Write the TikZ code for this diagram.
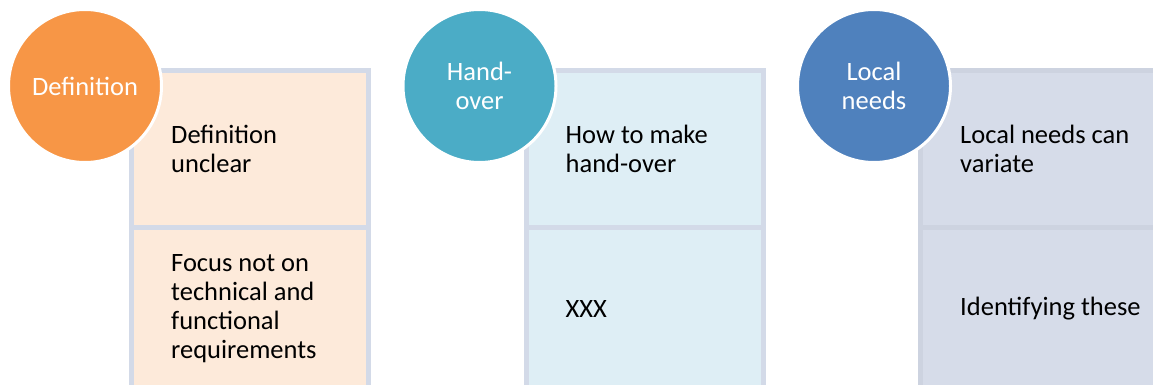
\documentclass[tikz,border=0pt]{standalone}
\usepackage{fontspec}
\setmainfont{Carlito}
\usetikzlibrary{positioning}

\begin{document}
\begin{tikzpicture}[x=1pt,y=-1pt,
  font=\fontsize{26.5}{29}\selectfont,
  circ/.style={circle,minimum size=153pt,inner sep=0pt,outer sep=0pt,
    draw=white,line width=3pt,text=white,align=center},
  cell/.style={rectangle,minimum width=237pt,inner sep=0pt,outer sep=0pt,
    line width=5pt},
  celltext/.style={align=left,inner sep=0pt,text=black}]
\definecolor{defcolor}{RGB}{247,150,70}
\definecolor{deffill}{RGB}{253,234,218}
\definecolor{handcolor}{RGB}{75,172,198}
\definecolor{handfill}{RGB}{222,238,245}
\definecolor{localcolor}{RGB}{79,129,189}
\definecolor{localfill}{RGB}{214,220,233}
\definecolor{cellline}{RGB}{211,218,232}

% Page size: 1153 x 385.
\useasboundingbox (0,0) rectangle (1153,385);

% Columns of two cells each, drawn first so the circles sit on top.
\node[cell,minimum height=157pt,fill=deffill,draw=cellline] (deftop) at (250,149) {};
\node[cell,minimum height=162pt,fill=deffill,draw=cellline] (defbot) at (250,308.5) {};
\node[cell,minimum height=157pt,fill=handfill,draw=cellline] (handtop) at (644.5,149) {};
\node[cell,minimum height=162pt,fill=handfill,draw=cellline] (handbot) at (644.5,308.5) {};
\node[cell,minimum height=157pt,fill=localfill,draw=localfill!96!black] (localtop) at (1039,149) {};
\node[cell,minimum height=162pt,fill=localfill,draw=localfill!96!black] (localbot) at (1039,308.5) {};

% Cell texts, left aligned with a fixed inset.
\node[celltext,right=39.5pt of deftop.west] (deftxt) {Definition\\unclear};
\node[celltext,right=39.5pt of defbot.west] (deftxtb)
  {Focus not on\\technical and\\functional\\requirements};
\node[celltext,right=39.5pt of handtop.west] (handtxt) {How to make\\hand-over};
\node[celltext,right=39.5pt of handbot.west] (handtxtb) {XXX};
\node[celltext,right=39.5pt of localtop.west] (localtxt) {Local needs can\\variate};
\node[celltext,right=39.5pt of localbot.west] (localtxtb) {Identifying these};

% Heading circles.
\node[circ,fill=defcolor] (def) at (85,86) {Definition};
\node[circ,fill=handcolor] (hand) at (479.5,86) {Hand-\\over};
\node[circ,fill=localcolor] (local) at (874,86) {Local\\needs};
\end{tikzpicture}
\end{document}
